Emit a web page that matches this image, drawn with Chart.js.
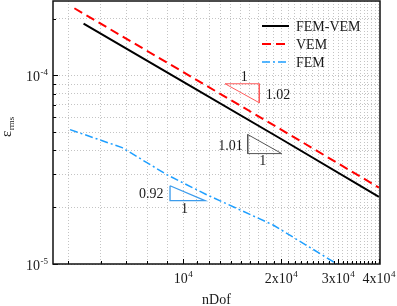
<!DOCTYPE html>
<html>
<head>
<meta charset="utf-8">
<script src="https://cdn.jsdelivr.net/npm/chart.js@4.4.0/dist/chart.umd.min.js"></script>
<style>
  html, body { margin: 0; padding: 0; background: #fff; }
  canvas { display: block; }
</style>
</head>
<body>
<canvas id="errChart" width="397" height="306"></canvas>
<script>
// error vs nDof

// =============== DATA ===============
const femVemDof = [4930, 10000, 20000, 40000];
const femVemErr = [1.88e-4, 9.23e-5, 4.6e-5, 2.27e-5];

const vemDof = [4620, 10000, 20000, 40000];
const vemErr = [2.27e-4, 1.04e-4, 5.16e-5, 2.54e-5];

const femDof = [4480, 6480, 8910, 11800, 18900, 30000];
const femErr = [5.16e-5, 4.14e-5, 2.97e-5, 2.33e-5, 1.61e-5, 9.9e-6];

// slope triangles: [left dof, right dof], [upper err, lower err]
const vemTriDof = [13440, 17130];
const vemTriErr = [9.03e-5, 7.16e-5];
const femVemTriDof = [15780, 20080];
const femVemTriErr = [4.86e-5, 3.85e-5];
const femTriDof = [9100, 11660];
const femTriErr = [2.60e-5, 2.17e-5];
const slopeLabels = ['1.01', '1.02', '0.92'];

// ticks
const xMajorTicks = [10000, 20000, 30000, 40000];
const xTickLabels = ['10^4', '2x10^4', '3x10^4', '4x10^4'];
const xMinorTicks = [4420, 5560, 6680, 7740, 8930,
  11000, 12000, 13000, 14000, 15000, 16000, 17000, 18000, 19000,
  21000, 22000, 23000, 24000, 25000, 26000, 27000, 28000, 29000,
  31000, 32000, 33000, 34000, 35000, 36000, 37000, 38000, 39000];
const yMajorTicks = [1e-5, 1e-4];
const yTickLabels = ['10^-5', '10^-4'];
const yMinorTicks = [2e-5, 3e-5, 4e-5, 5e-5, 6e-5, 7e-5, 8e-5, 9e-5, 2e-4];

const seriesNames = ['FEM-VEM', 'VEM', 'FEM'];
// ====================================

const SERIF = '"Liberation Serif", "Times New Roman", serif';
const TEXT = '#1a1a1a';
const C_BLACK = '#000000', C_RED = '#ff0000', C_BLUE = '#1e9fff';

const toPts = (xs, ys) => xs.map((x, i) => ({ x: x, y: ys[i] }));
// triangle with right angle bottom-left (hyp going down-right)
const triLowerLeft = (d, e) => [
  { x: d[0], y: e[0] }, { x: d[0], y: e[1] }, { x: d[1], y: e[1] }, { x: d[0], y: e[0] }];
// triangle with right angle top-right
const triUpperRight = (d, e) => [
  { x: d[0], y: e[0] }, { x: d[1], y: e[0] }, { x: d[1], y: e[1] }, { x: d[0], y: e[0] }];

function drawPow(ctx, label, x, y, align) {
  const parts = label.split('^');
  ctx.font = '14px ' + SERIF;
  const wb = ctx.measureText(parts[0]).width;
  ctx.font = '9px ' + SERIF;
  const ws = ctx.measureText(parts[1]).width;
  const total = wb + ws + 0.5;
  const x0 = align === 'right' ? x - total : (align === 'center' ? x - total / 2 : x);
  ctx.textAlign = 'left';
  ctx.textBaseline = 'alphabetic';
  ctx.font = '14px ' + SERIF;
  ctx.fillText(parts[0], x0, y);
  ctx.font = '9px ' + SERIF;
  ctx.fillText(parts[1], x0 + wb + 0.5, y - 6);
}

function line(ctx, x1, y1, x2, y2) {
  ctx.beginPath();
  ctx.moveTo(x1, y1);
  ctx.lineTo(x2, y2);
  ctx.stroke();
}

// frame, inward ticks, labels, legend
const decorPlugin = {
  id: 'decor',
  afterDraw(chart) {
    const ctx = chart.ctx;
    const a = chart.chartArea;
    const xs = chart.scales.x, ys = chart.scales.y;
    ctx.save();

    // inward ticks
    ctx.strokeStyle = '#000';
    ctx.lineWidth = 1;
    xMajorTicks.forEach(v => {
      const px = Math.round(xs.getPixelForValue(v)) + 0.5;
      line(ctx, px, a.bottom, px, a.bottom - 5);
    });
    xMinorTicks.forEach(v => {
      const px = Math.round(xs.getPixelForValue(v)) + 0.5;
      line(ctx, px, a.bottom, px, a.bottom - 3);
    });
    yMajorTicks.forEach(v => {
      const py = Math.round(ys.getPixelForValue(v)) + 0.5;
      line(ctx, a.left, py, a.left + 5, py);
    });
    yMinorTicks.forEach(v => {
      const py = Math.round(ys.getPixelForValue(v)) + 0.5;
      line(ctx, a.left, py, a.left + 3, py);
    });

    // frame
    ctx.lineWidth = 1.5;
    ctx.strokeStyle = '#111';
    ctx.strokeRect(a.left, a.top, a.right - a.left, a.bottom - a.top);

    // tick labels
    ctx.fillStyle = TEXT;
    xMajorTicks.forEach((v, i) => {
      drawPow(ctx, xTickLabels[i], xs.getPixelForValue(v), 283, 'center');
    });
    yMajorTicks.forEach((v, i) => {
      drawPow(ctx, yTickLabels[i], 48, ys.getPixelForValue(v) + 5.5, 'right');
    });

    // axis titles
    ctx.font = '14px ' + SERIF;
    ctx.textAlign = 'center';
    ctx.fillText('nDof', (a.left + a.right) / 2, 303.5);

    ctx.save();
    ctx.translate(10.5, 127);
    ctx.rotate(-Math.PI / 2);
    ctx.textAlign = 'left';
    ctx.font = '15px ' + SERIF;
    const we = ctx.measureText('\u03b5').width;
    ctx.fillText('\u03b5', -10, 0);
    ctx.font = '9px ' + SERIF;
    ctx.fillText('rms', -10 + we + 0.5, 3);
    ctx.restore();

    // slope labels
    ctx.font = '14px ' + SERIF;
    const P = (d, e) => ({ x: xs.getPixelForValue(d), y: ys.getPixelForValue(e) });
    // VEM (red)
    let p1 = P(vemTriDof[0], vemTriErr[0]), p2 = P(vemTriDof[1], vemTriErr[1]);
    ctx.textAlign = 'center';
    ctx.fillText('1', (p1.x + p2.x) / 2 + 2, p1.y - 3);
    ctx.textAlign = 'left';
    ctx.fillText(slopeLabels[1], p2.x + 6.5, (p1.y + p2.y) / 2 + 5.5);
    // FEM-VEM (black)
    p1 = P(femVemTriDof[0], femVemTriErr[0]); p2 = P(femVemTriDof[1], femVemTriErr[1]);
    ctx.textAlign = 'right';
    ctx.fillText(slopeLabels[0], p1.x - 5, (p1.y + p2.y) / 2 + 6);
    ctx.textAlign = 'center';
    ctx.fillText('1', (p1.x + p2.x) / 2 - 2, p2.y + 11);
    // FEM (blue)
    p1 = P(femTriDof[0], femTriErr[0]); p2 = P(femTriDof[1], femTriErr[1]);
    ctx.textAlign = 'right';
    ctx.fillText(slopeLabels[2], p1.x - 6.5, (p1.y + p2.y) / 2 + 5);
    ctx.textAlign = 'center';
    ctx.fillText('1', (p1.x + p2.x) / 2 - 3, p2.y + 12);

    // legend
    const legendStyles = [
      { color: C_BLACK, width: 2, dash: [] },
      { color: C_RED, width: 2, dash: [9, 5] },
      { color: C_BLUE, width: 1.5, dash: [8, 3, 2, 3] }
    ];
    seriesNames.forEach((name, i) => {
      const ly = 26 + i * 18;
      const st = legendStyles[i];
      ctx.strokeStyle = st.color;
      ctx.lineWidth = st.width;
      ctx.setLineDash(st.dash);
      line(ctx, 262, ly, 289, ly);
      ctx.setLineDash([]);
      ctx.fillStyle = TEXT;
      ctx.textAlign = 'left';
      ctx.font = '14px ' + SERIF;
      ctx.fillText(name, 296, ly + 5.3);
    });

    ctx.restore();
  }
};

const ctx = document.getElementById('errChart').getContext('2d');
new Chart(ctx, {
  type: 'line',
  data: {
    datasets: [
      { label: seriesNames[0], data: toPts(femVemDof, femVemErr), borderColor: C_BLACK, borderWidth: 2 },
      { label: seriesNames[1], data: toPts(vemDof, vemErr), borderColor: C_RED, borderWidth: 2, borderDash: [9, 5] },
      { label: seriesNames[2], data: toPts(femDof, femErr), borderColor: C_BLUE, borderWidth: 1.5, borderDash: [8, 3, 2, 3] },
      { label: 'tri1', data: triUpperRight(vemTriDof, vemTriErr), borderColor: '#ff5a5a', borderWidth: 1 },
      { label: 'tri2', data: triLowerLeft(femVemTriDof, femVemTriErr), borderColor: '#555555', borderWidth: 1 },
      { label: 'tri3', data: triLowerLeft(femTriDof, femTriErr), borderColor: '#3c9cec', borderWidth: 1.3 }
    ]
  },
  options: {
    responsive: false,
    animation: false,
    elements: { point: { radius: 0 }, line: { tension: 0, fill: false } },
    layout: { padding: { top: 1, right: 17, left: 0, bottom: 0 } },
    plugins: { legend: { display: false }, tooltip: { enabled: false } },
    scales: {
      x: {
        type: 'logarithmic',
        min: 3970,
        max: 40300,
        afterBuildTicks: s => { s.ticks = xMajorTicks.concat(xMinorTicks).map(v => ({ value: v })); },
        afterFit: s => { s.height = 42; },
        ticks: { display: false },
        grid: { color: '#c4c4c4', lineWidth: 1, drawTicks: false },
        border: { display: false, dash: [1, 2] }
      },
      y: {
        type: 'logarithmic',
        min: 1e-5,
        max: 2.48e-4,
        afterBuildTicks: s => { s.ticks = yMajorTicks.concat(yMinorTicks).map(v => ({ value: v })); },
        afterFit: s => { s.width = 53; },
        ticks: { display: false },
        grid: { color: '#c4c4c4', lineWidth: 1, drawTicks: false },
        border: { display: false, dash: [1, 2] }
      }
    }
  },
  plugins: [decorPlugin]
});
</script>
</body>
</html>
